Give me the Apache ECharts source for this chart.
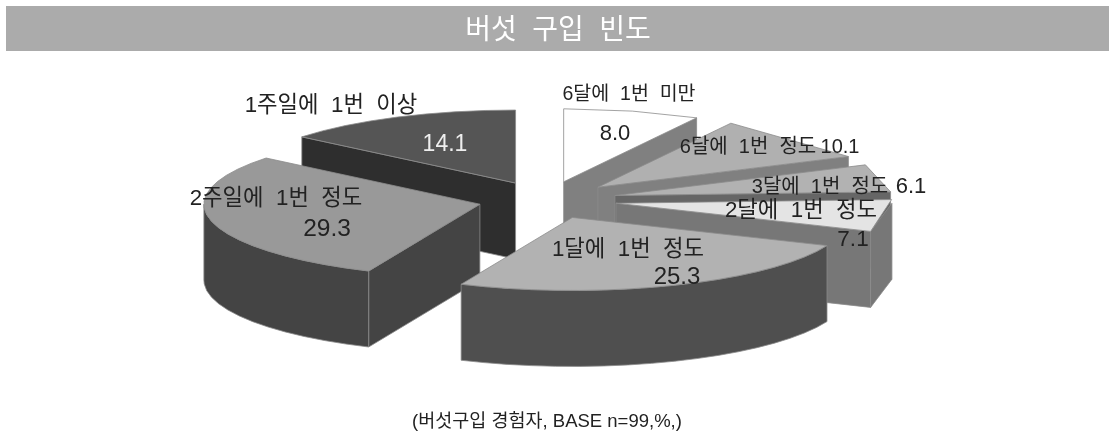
<!DOCTYPE html>
<html><head><meta charset="utf-8">
<style>html,body{margin:0;padding:0;background:#fff}#c{width:1109px;height:434px}</style>
<script src="https://cdn.jsdelivr.net/npm/echarts@6/dist/echarts.min.js"></script>
</head><body><div id="c"></div>
<script>
// Data, clockwise from 12 o'clock
const categories = ['6달에  1번  미만','6달에  1번  정도','3달에  1번  정도','2달에  1번  정도','1달에  1번  정도','2주일에  1번  정도','1주일에  1번  이상'];
const values = [8.0,10.1,6.1,7.1,25.3,29.3,14.1];
const valueLabels = ['8.0','10.1','6.1','7.1','25.3','29.3','14.1'];
const titleText = '버섯  구입  빈도';
const noteText = '(버섯구입 경험자, BASE n=99,%,)';

// Back-to-front painting order (indices into the arrays above)
const paintOrder = [6,0,1,2,3,5,4];
// Styling, by slice
const topColors  = ['#ffffff','#b0b0b0','#b2b2b2','#e4e4e4','#b2b2b2','#999999','#555555'];
const sideColors = ['#808080','#808080','#666666','#777777','#4f4f4f','#444444','#2e2e2e'];
const wallColors = ['#808080','#808080','#666666','#777777','#4f4f4f','#444444','#2e2e2e'];
const explodes   = [71,71,71,71,71,68,71];
const arcSegments= [2,1,1,1,18,20,8];
// Text layout
const catPos = [[629,95],[748,147],[820,187],[801,211],[628,250],[276,199],[331,106]];
const valPos = [[615,134],[840,147],[911,187],[853,240],[677,277],[327,229],[445,145]];
const catSize = [19.5,20,20,22.3,22.3,22.3,22.3];
const valSize = [22,20,22,22.5,24,24.5,23];

const CX=546, CY=200, RX=276, RY=73, DEPTH=76;
const FONT='"Liberation Sans","Noto Sans CJK KR",sans-serif';
const total = values.reduce((a,b)=>a+b,0);
const starts=[]; values.reduce((acc,v,i)=>{starts[i]=acc;return acc+v;},0);

function pt(ox,oy,deg,dz){const r=deg*Math.PI/180;return [ox+RX*Math.sin(r),oy-RY*Math.cos(r)+(dz||0)];}

function renderItem(params,api){
  const i=api.value(0), v=api.value(1);
  const a=starts[i]/total*360, b=(starts[i]+v)/total*360, m=(a+b)/2*Math.PI/180;
  const e0=explodes[i];
  const ox=CX+e0*Math.sin(m), oy=CY-e0*(RY/RX)*Math.cos(m);
  const kids=[];
  const poly=(points,fill)=>kids.push({type:'polygon',shape:{points},style:{fill,stroke:'#8c8c8c',lineWidth:0.8}});
  const n=arcSegments[i];
  const angles=[];for(let k=0;k<=n;k++)angles.push(a+(b-a)*k/n);
  const ra=a*Math.PI/180, rb=b*Math.PI/180;
  if(Math.sin(ra)<-1e-6){const e=pt(ox,oy,a);poly([[ox,oy],e,[e[0],e[1]+DEPTH],[ox,oy+DEPTH]],sideColors[i]);}
  if(Math.sin(rb)>1e-6){const e=pt(ox,oy,b);poly([[ox,oy],e,[e[0],e[1]+DEPTH],[ox,oy+DEPTH]],sideColors[i]);}
  const wa=Math.max(a,90), wb=Math.min(b,270);
  if(wb>wa){
    const w=[wa].concat(angles.filter(t=>t>wa&&t<wb),[wb]);
    poly(w.map(t=>pt(ox,oy,t,0)).concat(w.slice().reverse().map(t=>pt(ox,oy,t,DEPTH))),wallColors[i]);
  }
  poly([[ox,oy]].concat(angles.map(t=>pt(ox,oy,t,0))),topColors[i]);
  return {type:'group',children:kids};
}

const order = paintOrder.map(i=>[i,values[i]]);
const txt=(text,p,color,size)=>({type:'text',z:20,style:{text,x:p[0],y:p[1],fill:color,font:size+'px '+FONT,textAlign:'center',textVerticalAlign:'middle'}});

const chart=echarts.init(document.getElementById('c'),null,{renderer:'canvas'});
chart.setOption({
  animation:false,
  backgroundColor:'#ffffff',
  series:[{type:'custom',coordinateSystem:'none',renderItem,data:order,silent:true,z:2}],
  graphic:[
    {type:'rect',z:1,shape:{x:6,y:6,width:1103,height:45},style:{fill:'#ababab'}},
    txt(titleText,[558,31],'#ffffff',28),
    txt(noteText,[547,422],'#222222',18.5),
    ...categories.map((c,i)=>txt(c,catPos[i],'#222222',catSize[i])),
    ...valueLabels.map((c,i)=>txt(c,valPos[i],i===6?'#eeeeee':'#222222',valSize[i]))
  ]
});
</script></body></html>
